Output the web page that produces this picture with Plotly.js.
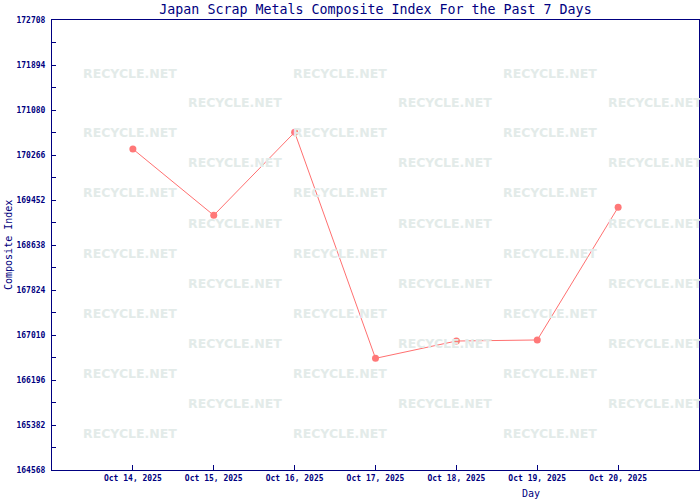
<!DOCTYPE html>
<html>
<head>
<meta charset="utf-8">
<script src="https://cdn.plot.ly/plotly-3.0.1.min.js"></script>
<style>html,body{margin:0;padding:0;background:#fff;}#chart{width:700px;height:500px;}</style>
</head>
<body>
<div id="chart"></div>
<script>
// ---- data ----
const days = ['2025-10-14','2025-10-15','2025-10-16','2025-10-17','2025-10-18','2025-10-19','2025-10-20'];
const indexValues = [170374, 169175, 170677, 166588, 166901, 166920, 169320];
const yTickVals = [164568, 165382, 166196, 167010, 167824, 168638, 169452, 170266, 171080, 171894, 172708];
const xRange = ['2025-10-13', '2025-10-21'];
const titleText = 'Japan Scrap Metals Composite Index For the Past 7 Days';
const yTitleText = 'Composite Index';
const xTitleText = 'Day';
const watermarkText = 'RECYCLE.NET';

const navy = '#000080';
const mono = '"DejaVu Sans Mono", monospace';

// watermark grid (decorative)
const annotations = [];
const W = 700, H = 500, L = 52, R = 1, T = 20, B = 30;
const pw = W - L - R, ph = H - T - B;
for (let r = 0; r < 13; r++) {
  const py = 73 + r * 30;
  const xs = (r % 2 === 0) ? [130, 340, 550] : [235, 445, 655];
  xs.forEach(px => {
    annotations.push({
      xref: 'paper', yref: 'paper',
      x: (px - L) / pw, y: 1 - (py - T) / ph,
      xanchor: 'center', yanchor: 'middle',
      text: watermarkText, showarrow: false,
      font: {family: '"DejaVu Sans", sans-serif', size: 12.5, color: '#e3ebe9', weight: 'bold'}
    });
  });
}
annotations.push({
  xref: 'paper', yref: 'paper', x: (531 - L) / pw, y: (470 - 494) / ph,
  xanchor: 'center', yanchor: 'middle', showarrow: false,
  text: xTitleText, font: {family: mono, size: 10, color: navy}
});
annotations.push({
  xref: 'paper', yref: 'paper', x: (8 - L) / pw, y: 0.5,
  xanchor: 'center', yanchor: 'middle', showarrow: false, textangle: -90,
  text: yTitleText, font: {family: mono, size: 10, color: navy}
});

const trace = {
  x: days, y: indexValues, type: 'scatter', mode: 'lines+markers',
  line: {color: '#ff7070', width: 1},
  marker: {color: '#ff7878', size: 7, symbol: 'circle'},
  hoverinfo: 'x+y'
};

const layout = {
  width: W, height: H,
  margin: {l: L, r: R, t: T, b: B, pad: 0},
  paper_bgcolor: '#ffffff', plot_bgcolor: '#ffffff',
  showlegend: false,
  title: {
    text: titleText, xref: 'paper', x: 0.5, xanchor: 'center',
    yref: 'container', y: 1 - 9 / H, yanchor: 'middle',
    font: {family: mono, size: 13.3, color: navy}
  },
  xaxis: {
    type: 'date', range: xRange, tickvals: days, tickformat: '%b %d, %Y',
    showgrid: false, zeroline: false,
    showline: true, linecolor: navy, linewidth: 1, mirror: true,
    ticks: 'inside', ticklen: 5, tickcolor: navy, tickwidth: 1,
    tickfont: {family: mono, size: 8, color: navy, weight: 'bold'}
  },
  yaxis: {
    range: [yTickVals[0], yTickVals[yTickVals.length - 1]],
    tickvals: yTickVals, ticktext: yTickVals.map(String),
    showgrid: false, zeroline: false,
    showline: true, linecolor: navy, linewidth: 1, mirror: true,
    ticks: 'inside', ticklen: 4, tickcolor: navy, tickwidth: 1,
    ticklabelstandoff: 4,
    minor: {dtick: 407, tick0: yTickVals[0], ticks: 'inside', ticklen: 4, tickcolor: navy, showgrid: false},
    tickfont: {family: mono, size: 8, color: navy, weight: 'bold'}
  },
  annotations: annotations
};

Plotly.newPlot('chart', [trace], layout, {displayModeBar: false, staticPlot: true});
</script>
</body>
</html>
